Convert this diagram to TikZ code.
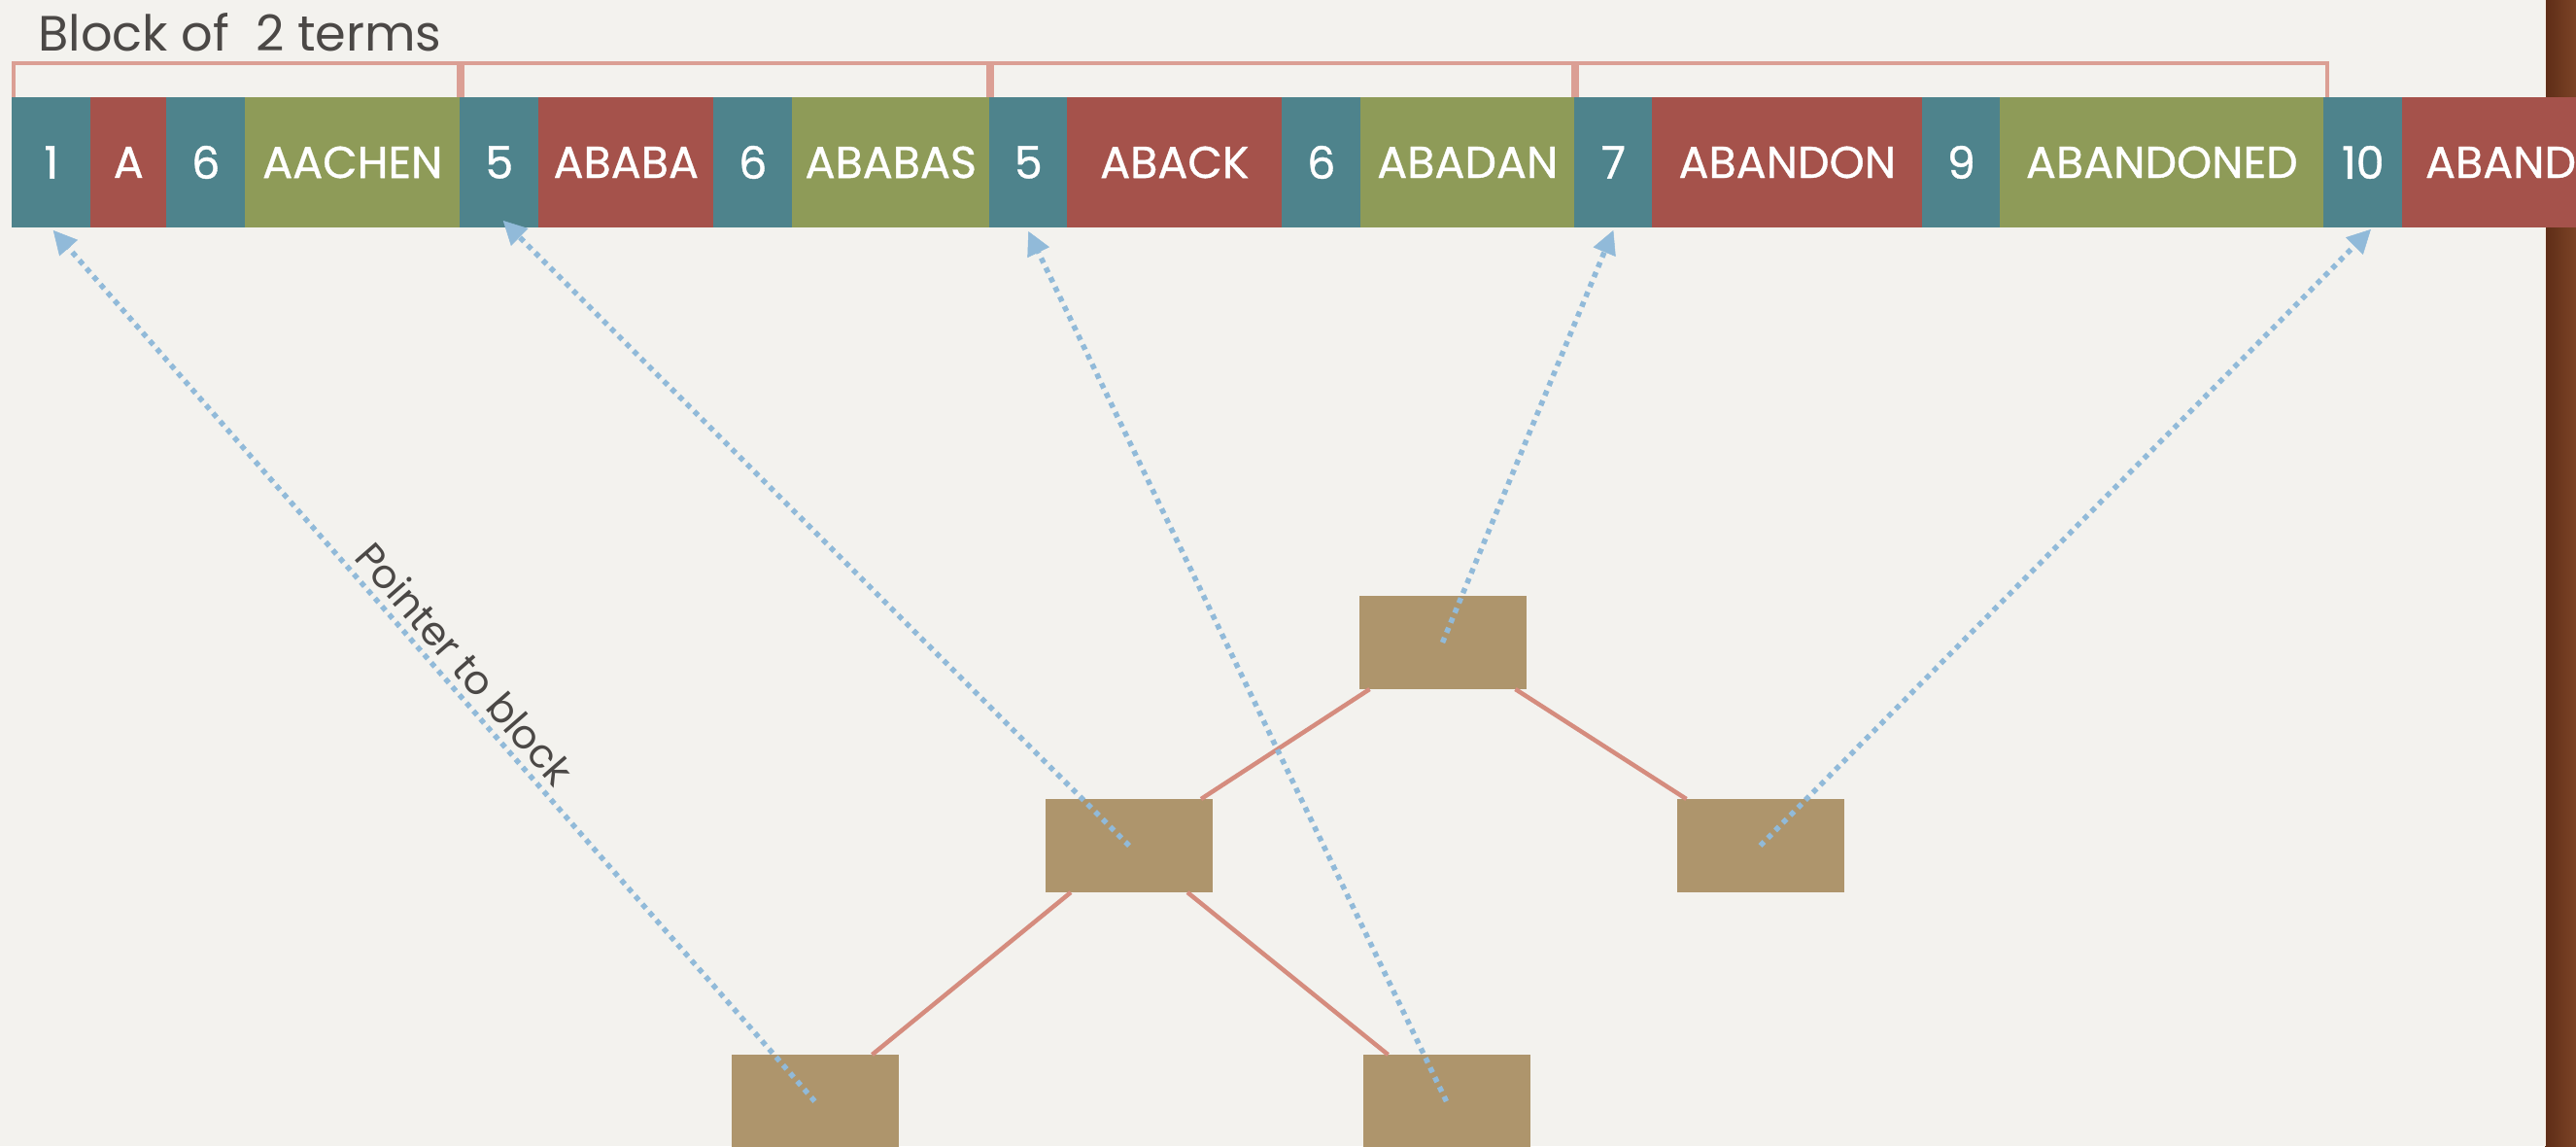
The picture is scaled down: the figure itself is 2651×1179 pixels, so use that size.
\documentclass[tikz,border=0pt]{standalone}
\usepackage{fontspec}
\setmainfont{Poppins}
\newfontfamily\barfont[FakeBold=0.8]{Poppins}
\usetikzlibrary{calc,arrows.meta}

\definecolor{paper}{HTML}{F3F2EE}
\definecolor{tealc}{HTML}{4E838C}
\definecolor{redc}{HTML}{A5524B}
\definecolor{greenc}{HTML}{8E9B58}
\definecolor{tanc}{HTML}{AE956C}
\definecolor{salmon}{HTML}{D58C7E}
\definecolor{ptrc}{HTML}{91BAD9}
\definecolor{ink}{HTML}{4B4846}
\definecolor{woodA}{HTML}{5E2D17}
\definecolor{woodB}{HTML}{7C4326}

\begin{document}
\begin{tikzpicture}[x=1pt,y=-1pt,
  cell/.style={minimum height=134pt, inner sep=0pt, outer sep=0pt, anchor=west,
    font=\barfont\fontsize{46}{50}\selectfont, text=white},
  treenode/.style={fill=tanc, minimum width=172pt, minimum height=96pt, inner sep=0pt, outer sep=0pt},
  edge/.style={draw=salmon, line width=4.5pt},
  bracket/.style={draw=salmon!90!white, line width=4pt, opacity=0.9},
  ptr/.style={draw=ptrc, line width=5.5pt, dash pattern=on 5.5pt off 5.5pt,
    -{Triangle[length=24pt,width=25pt,line width=0.5pt]}},
]
\useasboundingbox (0,0) rectangle (2651,1179);
\clip (0,0) rectangle (2651,1179);
\fill[paper] (0,0) rectangle (2651,1179);
\shade[left color=woodA, right color=woodB] (2619,0) rectangle (2651,1179);
\draw[white!85!brown, line width=1pt] (2619.5,0) -- (2619.5,1179);

% title
\node[anchor=base west, inner sep=0pt, text=ink, font=\fontsize{51}{58}\selectfont] (title) at (39,52) {Block of\ \ 2 terms};

% bar cells
\foreach \a/\b/\c/\t/\n in {
  12/93/tealc/1/c1, 93/171/redc/A/c2, 171/252/tealc/6/c3, 252/473/greenc/AACHEN/c4,
  473/554/tealc/5/c5, 554/734/redc/ABABA/c6, 734/815/tealc/6/c7, 815/1018/greenc/ABABAS/c8,
  1018/1098/tealc/5/c9, 1098/1319/redc/ABACK/c10, 1319/1400/tealc/6/c11, 1400/1620/greenc/ABADAN/c12,
  1620/1700/tealc/7/c13, 1700/1978/redc/ABANDON/c14, 1978/2058/tealc/9/c15, 2058/2391/greenc/ABANDONED/c16,
  2391/2472/tealc/10/c17}
  \node[cell, fill=\c, minimum width=\b-\a+0.6] (\n) at (\a,167) {\t};
\node[cell, fill=redc, minimum width=220pt, text width=220pt, align=left, inner xsep=0pt] (c18) at (2472,167) {\hspace*{24pt}ABAND};

% brackets
\draw[bracket] ([xshift=2pt]c1.north west) -- ++(0,-35) -| ([xshift=-1pt]c5.north west);
\draw[bracket] ([xshift=3pt]c5.north west) -- ++(0,-35) -| ([xshift=-1pt]c9.north west);
\draw[bracket] ([xshift=3pt]c9.north west) -- ++(0,-35) -| ([xshift=-1pt]c13.north west);
\draw[bracket] ([xshift=3pt]c13.north west) -- ++(0,-35) -| ([xshift=4pt]c17.north west);

% tree nodes
\node[treenode] (root) at (1484.5,661) {};
\node[treenode] (midl) at (1162,870) {};
\node[treenode] (midr) at (1811.5,870) {};
\node[treenode] (botl) at (838.5,1133) {};
\node[treenode] (botr) at (1488.5,1133) {};

% tree edges
\draw[edge] ([xshift=11pt]root.south west) -- ([xshift=-12pt]midl.north east);
\draw[edge] ([xshift=-11pt]root.south east) -- ([xshift=10pt]midr.north west);
\draw[edge] ([xshift=26pt]midl.south west) -- ([xshift=-27pt]botl.north east);
\draw[edge] ([xshift=-26pt]midl.south east) -- ([xshift=26pt]botr.north west);

% pointer targets
\coordinate (t1) at ($(c1.south)+(2,3)$);
\coordinate (t2) at ($(c5.south)+(4,-7)$);
\coordinate (t3) at ($(c9.south)+(0,4)$);
\coordinate (t4) at ($(c13.south)+(0,3)$);
\coordinate (t5) at ($(c17.south)+(8,2)$);

% pointers
\draw[ptr] (botl.center) -- (t1)
  node[pos=0.484, sloped, above, inner sep=7pt, text=ink, font=\fontsize{41}{45}\selectfont] (lbl) {Pointer to block};
\draw[ptr] (midl.center) -- (t2);
\draw[ptr] (botr.center) -- (t3);
\draw[ptr] (root.center) -- (t4);
\draw[ptr] (midr.center) -- (t5);
\end{tikzpicture}
\end{document}
